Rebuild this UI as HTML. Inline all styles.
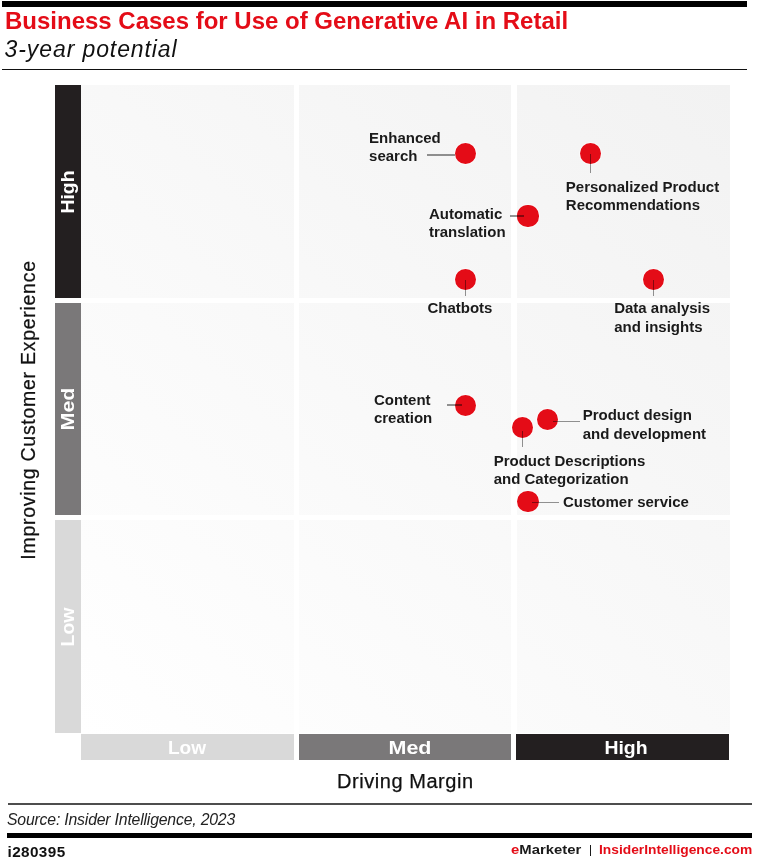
<!DOCTYPE html>
<html><head><meta charset="utf-8"><style>
html,body{margin:0;padding:0;background:#fff;width:757px;height:864px;overflow:hidden}
body{position:relative;font-family:"Liberation Sans", Arial, sans-serif}
.r{position:absolute}
.t{position:absolute;white-space:nowrap;line-height:1}
.dot{position:absolute;border-radius:50%;background:#e40c17;box-shadow:0 0 0 0.8px rgba(255,255,255,0.7)}
.vl{position:absolute;width:80px;margin-left:-40px;margin-top:-10px;height:20px;line-height:20px;text-align:center;color:#fff;font-weight:bold;font-size:18.5px;transform:rotate(-90deg);white-space:nowrap}
.hl{position:absolute;width:80px;text-align:center;color:#fff;font-weight:bold;font-size:18.5px;line-height:1;white-space:nowrap}
</style></head><body>
<div class="r" style="left:2px;top:1px;width:745px;height:5.5px;background:#000"></div>
<div class="t" style="left:5.00px;top:8.68px;font-size:24px;font-weight:bold;font-style:normal;color:#e40c17;letter-spacing:-0.005px;">Business Cases for Use of Generative AI in Retail</div>
<div class="t" style="left:4.60px;top:37.53px;font-size:23px;font-weight:normal;font-style:italic;color:#111;letter-spacing:0.9px;">3-year potential</div>
<div class="r" style="left:2px;top:68.7px;width:745px;height:1.5px;background:#111"></div>
<div class="r" style="left:81px;top:85px;width:648.5px;height:647.8px;background:linear-gradient(42deg,#ffffff 0%,#f2f2f2 100%)"></div>
<div class="r" style="left:294px;top:84px;width:5px;height:650px;background:#fff"></div>
<div class="r" style="left:511.3px;top:84px;width:5.3px;height:650px;background:#fff"></div>
<div class="r" style="left:80px;top:298.2px;width:652px;height:5.1px;background:#fff"></div>
<div class="r" style="left:80px;top:514.5px;width:652px;height:5px;background:#fff"></div>
<div class="r" style="left:54.8px;top:85px;width:26.3px;height:213.0px;background:#231f20"></div>
<div class="vl" style="left:67.9px;top:191.5px;transform:rotate(-90deg) scaleX(1.05)">High</div>
<div class="r" style="left:54.8px;top:303px;width:26.3px;height:212.4px;background:#7a7879"></div>
<div class="vl" style="left:67.9px;top:409.2px;transform:rotate(-90deg) scaleX(1.16)">Med</div>
<div class="r" style="left:54.8px;top:520.2px;width:26.3px;height:212.6px;background:#d9d9d9"></div>
<div class="vl" style="left:67.9px;top:626.5px;transform:rotate(-90deg) scaleX(1.05)">Low</div>
<div class="r" style="left:81px;top:734.3px;width:213.0px;height:26.2px;background:#d9d9d9"></div>
<div class="hl" style="left:147.2px;top:738.54px;transform:scaleX(1.03)">Low</div>
<div class="r" style="left:298.5px;top:734.3px;width:212.8px;height:26.2px;background:#7a7879"></div>
<div class="hl" style="left:370.4px;top:738.54px;transform:scaleX(1.16)">Med</div>
<div class="r" style="left:516.2px;top:734.3px;width:213.3px;height:26.2px;background:#231f20"></div>
<div class="hl" style="left:586px;top:738.54px;transform:scaleX(1.05)">High</div>
<div class="t" style="left:337.00px;top:770.87px;font-size:20px;font-weight:normal;font-style:normal;color:#111;letter-spacing:0.55px;-webkit-text-stroke:0.25px #111;">Driving Margin</div>
<div class="t" style="left:19.2px;top:409.5px;font-size:19.5px;color:#111;letter-spacing:0.72px;-webkit-text-stroke:0.25px #111;transform-origin:0 0;transform:rotate(-90deg) translate(-50%,0);">Improving Customer Experience</div>
<div class="dot" style="left:454.6px;top:143.3px;width:21.2px;height:21.2px"></div>
<div class="dot" style="left:580.1px;top:142.9px;width:21.2px;height:21.2px"></div>
<div class="dot" style="left:517.4px;top:205.4px;width:21.2px;height:21.2px"></div>
<div class="dot" style="left:454.6px;top:268.7px;width:21.2px;height:21.2px"></div>
<div class="dot" style="left:643.0px;top:268.9px;width:21.2px;height:21.2px"></div>
<div class="dot" style="left:454.7px;top:394.5px;width:21.2px;height:21.2px"></div>
<div class="dot" style="left:511.9px;top:417.2px;width:21.2px;height:21.2px"></div>
<div class="dot" style="left:536.6px;top:408.9px;width:21.2px;height:21.2px"></div>
<div class="dot" style="left:517.4px;top:490.6px;width:21.2px;height:21.2px"></div>
<div class="r" style="left:426.5px;top:154.25px;width:28.5px;height:1.3px;background:rgba(0,0,0,0.42)"></div>
<div class="r" style="left:590.15px;top:153.5px;width:1.3px;height:19.1px;background:rgba(0,0,0,0.42)"></div>
<div class="r" style="left:510.2px;top:215.35px;width:13.8px;height:1.3px;background:rgba(0,0,0,0.42)"></div>
<div class="r" style="left:464.55px;top:279.5px;width:1.3px;height:16.2px;background:rgba(0,0,0,0.42)"></div>
<div class="r" style="left:652.95px;top:279.8px;width:1.3px;height:16.3px;background:rgba(0,0,0,0.42)"></div>
<div class="r" style="left:446.6px;top:404.45px;width:15.9px;height:1.3px;background:rgba(0,0,0,0.42)"></div>
<div class="r" style="left:522.05px;top:431px;width:1.3px;height:15.9px;background:rgba(0,0,0,0.42)"></div>
<div class="r" style="left:552.6px;top:420.75px;width:27.3px;height:1.3px;background:rgba(0,0,0,0.42)"></div>
<div class="r" style="left:531.7px;top:501.85px;width:27.0px;height:1.3px;background:rgba(0,0,0,0.42)"></div>
<div class="t" style="left:369.10px;top:129.90px;font-size:15px;font-weight:bold;font-style:normal;color:#1a1a1a;letter-spacing:0px;">Enhanced</div>
<div class="t" style="left:369.10px;top:148.20px;font-size:15px;font-weight:bold;font-style:normal;color:#1a1a1a;letter-spacing:0px;">search</div>
<div class="t" style="left:565.80px;top:179.10px;font-size:15px;font-weight:bold;font-style:normal;color:#1a1a1a;letter-spacing:0px;">Personalized Product</div>
<div class="t" style="left:565.80px;top:197.40px;font-size:15px;font-weight:bold;font-style:normal;color:#1a1a1a;letter-spacing:0px;">Recommendations</div>
<div class="t" style="left:428.90px;top:205.90px;font-size:15px;font-weight:bold;font-style:normal;color:#1a1a1a;letter-spacing:0px;">Automatic</div>
<div class="t" style="left:428.90px;top:224.20px;font-size:15px;font-weight:bold;font-style:normal;color:#1a1a1a;letter-spacing:0px;">translation</div>
<div class="t" style="left:427.40px;top:300.20px;font-size:15px;font-weight:bold;font-style:normal;color:#1a1a1a;letter-spacing:0px;">Chatbots</div>
<div class="t" style="left:614.20px;top:300.40px;font-size:15px;font-weight:bold;font-style:normal;color:#1a1a1a;letter-spacing:0px;">Data analysis</div>
<div class="t" style="left:614.20px;top:318.70px;font-size:15px;font-weight:bold;font-style:normal;color:#1a1a1a;letter-spacing:0px;">and insights</div>
<div class="t" style="left:373.90px;top:392.10px;font-size:15px;font-weight:bold;font-style:normal;color:#1a1a1a;letter-spacing:0px;">Content</div>
<div class="t" style="left:373.90px;top:410.40px;font-size:15px;font-weight:bold;font-style:normal;color:#1a1a1a;letter-spacing:0px;">creation</div>
<div class="t" style="left:582.70px;top:407.20px;font-size:15px;font-weight:bold;font-style:normal;color:#1a1a1a;letter-spacing:0px;">Product design</div>
<div class="t" style="left:582.70px;top:425.50px;font-size:15px;font-weight:bold;font-style:normal;color:#1a1a1a;letter-spacing:0px;">and development</div>
<div class="t" style="left:493.70px;top:452.80px;font-size:15px;font-weight:bold;font-style:normal;color:#1a1a1a;letter-spacing:0px;">Product Descriptions</div>
<div class="t" style="left:493.70px;top:471.10px;font-size:15px;font-weight:bold;font-style:normal;color:#1a1a1a;letter-spacing:0px;">and Categorization</div>
<div class="t" style="left:563.00px;top:494.30px;font-size:15px;font-weight:bold;font-style:normal;color:#1a1a1a;letter-spacing:0px;">Customer service</div>
<div class="r" style="left:7.5px;top:802.6px;width:744.5px;height:2.4px;background:#4d4d4d"></div>
<div class="t" style="left:7.00px;top:812.03px;font-size:15.8px;font-weight:normal;font-style:italic;color:#222;letter-spacing:-0.19px;">Source: Insider Intelligence, 2023</div>
<div class="r" style="left:7.3px;top:832.8px;width:744.7px;height:4.8px;background:#000"></div>
<div class="t" style="left:7.50px;top:843.65px;font-size:15.3px;font-weight:bold;font-style:normal;color:#111;letter-spacing:0.4px;">i280395</div>
<div class="t" style="left:511.00px;top:843.93px;font-size:12.6px;font-weight:bold;font-style:normal;color:#1a1a1a;letter-spacing:0px;transform-origin:0 0;transform:scaleX(1.18);"><span style="color:#e40c17">e</span>Marketer</div>
<div class="r" style="left:589.5px;top:845px;width:1.6px;height:11px;background:#1a1a1a"></div>
<div class="t" style="left:599.00px;top:843.93px;font-size:12.6px;font-weight:bold;font-style:normal;color:#e40c17;letter-spacing:0px;transform-origin:0 0;transform:scaleX(1.095);">InsiderIntelligence.com</div>
</body></html>
